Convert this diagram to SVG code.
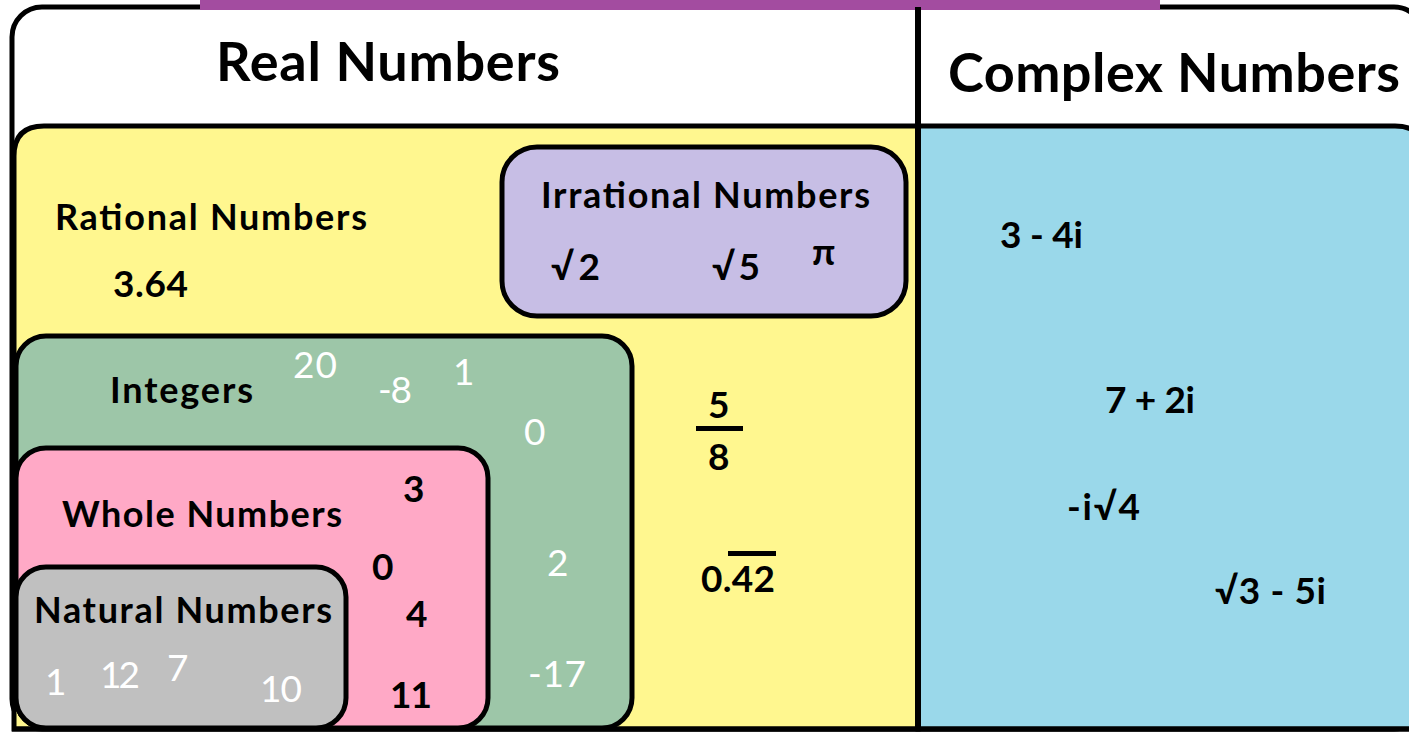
<svg xmlns="http://www.w3.org/2000/svg" width="1409" height="732" viewBox="0 0 1409 732">
<style>
.box{stroke:#000;stroke-width:5}
.t{font-family:Lato,"Liberation Sans",sans-serif;font-weight:bold;fill:#000}
.w{font-family:Lato,"Liberation Sans",sans-serif;font-weight:normal;fill:#fff}
.title{font-size:54px}
.lab{font-size:36px}
.num{font-size:37px}
</style>
<rect width="1409" height="732" fill="#fff"/>
<g id="frame">
<rect x="12" y="7" width="1412" height="722" rx="30" fill="#fff" class="box"/>
<rect x="200" y="0" width="960" height="10" fill="#A34CA0"/>
</g>
<g id="real-numbers">
<text class="t title" x="216" y="81" textLength="344">Real Numbers</text>
</g>
<g id="complex-numbers">
<text class="t title" x="948" y="92" textLength="452">Complex Numbers</text>
<path d="M918 126 H1395 Q1425 126 1425 156 V729 H918 Z" fill="#9AD8EA" class="box"/>
<text class="t num" x="1000" y="248" textLength="83">3 - 4i</text>
<text class="t num" x="1105" y="413" textLength="90">7 + 2i</text>
<text class="t num" x="1067" y="520" textLength="73">-i√4</text>
<text class="t num" x="1215" y="604" textLength="111">√3 - 5i</text>
</g>
<g id="rational-numbers">
<path d="M14 729 V156 Q14 126 44 126 H918 V729 Z" fill="#FFF78F" class="box"/>
<text class="t lab" x="55" y="230" textLength="312">Rational Numbers</text>
<text class="t num" x="113" y="297" textLength="75">3.64</text>
<text class="t num" x="708" y="418">5</text>
<rect x="696" y="426" width="47" height="5" fill="#000"/>
<text class="t num" x="708" y="470">8</text>
<text class="t num" x="701" y="592" textLength="74">0.42</text>
<rect x="728" y="551" width="48" height="5" fill="#000"/>
</g>
<g id="irrational-numbers">
<rect x="502" y="147" width="404" height="169" rx="35" fill="#C7BEE5" class="box"/>
<text class="t lab" x="541" y="208" textLength="329">Irrational Numbers</text>
<text class="t num" x="551" y="280" textLength="49">√2</text>
<text class="t num" x="712" y="280" textLength="48">√5</text>
<text class="t num" x="812" y="265">π</text>
</g>
<g id="integers">
<rect x="16" y="336" width="616" height="392" rx="30" fill="#9DC6A8" class="box"/>
<text class="t lab" x="110" y="403" textLength="143">Integers</text>
<text class="w num" x="293" y="378" textLength="44">20</text>
<text class="w num" x="378" y="403" textLength="34">-8</text>
<text class="w num" x="453" y="385">1</text>
<text class="w num" x="524" y="445">0</text>
<text class="w num" x="547" y="576">2</text>
<text class="w num" x="528" y="687" textLength="58">-17</text>
</g>
<g id="whole-numbers">
<rect x="16" y="448" width="472" height="280" rx="30" fill="#FFA9C6" class="box"/>
<text class="t lab" x="62" y="527" textLength="280">Whole Numbers</text>
<text class="t num" x="403" y="502">3</text>
<text class="t num" x="372" y="580">0</text>
<text class="t num" x="406" y="627">4</text>
<text class="t num" x="390" y="708" textLength="42">11</text>
</g>
<g id="natural-numbers">
<rect x="16" y="567" width="330" height="161" rx="30" fill="#C0C0C0" class="box"/>
<text class="t lab" x="34" y="623" textLength="298">Natural Numbers</text>
<text class="w num" x="45" y="695">1</text>
<text class="w num" x="100" y="688" textLength="40">12</text>
<text class="w num" x="167" y="681">7</text>
<text class="w num" x="260" y="702" textLength="42">10</text>
</g>
<g id="connectors">
<line x1="918" y1="7" x2="918" y2="729" stroke="#000" stroke-width="6"/>
<line x1="12" y1="729" x2="1409" y2="729" stroke="#000" stroke-width="5"/>
</g>
</svg>
